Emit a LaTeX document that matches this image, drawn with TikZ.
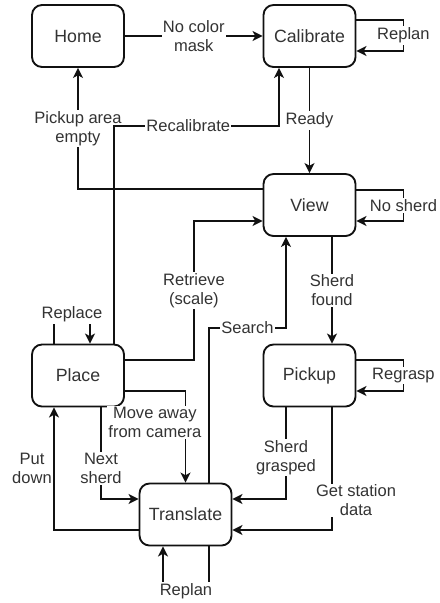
\documentclass[tikz,border=0pt]{standalone}
\usepackage{fontspec}
\setmainfont{Liberation Sans}
\usetikzlibrary{arrows.meta,calc}
\definecolor{txt}{HTML}{333333}
\definecolor{ln}{HTML}{111111}
\tikzset{
  state/.style={draw=ln, line width=1.4pt, rounded corners=7.5pt, minimum width=69pt, minimum height=46.5pt,
    font=\fontsize{13.3}{15}\selectfont, text=txt},
  arr/.style={draw=ln, line width=1.4pt, -{Stealth[length=7.5pt,width=7.5pt,inset=2pt]}},
  lbl/.style={fill=white, inner sep=1pt, align=center, font=\fontsize{12.4}{14}\selectfont, text=txt}
}
\begin{document}
\begin{tikzpicture}[x=0.75pt,y=-0.75pt]
\useasboundingbox[fill=white] (0,0) rectangle (439,603);
\node[state] (home) at (78,36) {Home};
\node[state] (calib) at (309.5,36) {Calibrate};
\node[state] (view) at (309.5,205) {View};
\node[state] (place) at (78,375.5) {Place};
\node[state] (pickup) at (309.5,375.5) {Pickup};
\node[state] (trans) at (185.5,514.5) {Translate};

% Home -> Calibrate
\draw[arr] (home) -- node[lbl]{No color\\mask} (calib);
% Calibrate self loop
\draw[arr] ($(calib.east)+(0,-16)$) -- ++(47,0) -- node[lbl]{Replan} ++(0,31) -- ($(calib.east)+(0,15)$);
% Calibrate -> View
\draw[arr] (calib) -- node[lbl]{Ready} (view);
% View -> Home
\draw[arr] ($(view.west)+(0,-16)$) -| node[lbl,pos=0.75]{Pickup area\\empty} (home.south);
% Place -> Calibrate
\draw[arr] ($(place.north)+(36,0)$) -- ++(0,-218) -- node[lbl,pos=0.45]{Recalibrate} ++(165,0) -- ($(calib.south)+(-30.5,0)$);
% View self loop
\draw[arr] ($(view.east)+(0,-15)$) -- ++(47,0) -- node[lbl]{No sherd} ++(0,31) -- ($(view.east)+(0,16)$);
% Place -> View
\draw[arr] ($(place.east)+(0,-15.5)$) -- ++(69,0) -- node[lbl]{Retrieve\\(scale)} ++(0,-139) -- ($(view.west)+(0,16)$);
% Translate -> View
\draw[arr] ($(trans.north)+(23.5,0)$) -- ++(0,-155) -- node[lbl]{Search} ++(77,0) -- ($(view.south)+(-23.5,0)$);
% View -> Pickup
\draw[arr] ($(view.south)+(22.5,0)$) -- node[lbl]{Sherd\\found} ($(pickup.north)+(22.5,0)$);
% Place self loop
\draw[arr] ($(place.north)+(-24,0)$) -- ++(0,-29) -- node[lbl]{Replace} ++(36,0) -- ($(place.north)+(12,0)$);
% Pickup self loop
\draw[arr] ($(pickup.east)+(0,-15.5)$) -- ++(47,0) -- node[lbl]{Regrasp} ++(0,31) -- ($(pickup.east)+(0,15.5)$);
% Place -> Translate (move away)
\draw[arr] ($(place.east)+(0,15.5)$) -| node[lbl,pos=0.672,xshift=-23pt]{Move away\\from camera} (trans.north);
% Place -> Translate (next sherd)
\draw[arr] ($(place.south)+(23,0)$) |- node[lbl,pos=0.333]{Next\\sherd} ($(trans.west)+(0,-15.5)$);
% Translate -> Place
\draw[arr] ($(trans.west)+(0,15.5)$) -| node[lbl,pos=0.75,xshift=-16.5pt]{Put\\down} ($(place.south)+(-24,0)$);
% Pickup -> Translate (grasped)
\draw[arr] ($(pickup.south)+(-23.5,0)$) |- node[lbl,pos=0.274]{Sherd\\grasped} ($(trans.east)+(0,-15.5)$);
% Pickup -> Translate (station data)
\draw[arr] ($(pickup.south)+(22.5,0)$) |- node[lbl,pos=0.379,xshift=18pt]{Get station\\data} ($(trans.east)+(0,15.5)$);
% Translate self loop
\draw[arr] ($(trans.south)+(23.5,0)$) -- ++(0,45) -- node[lbl]{Replan} ++(-46,0) -- ($(trans.south)+(-22.5,0)$);
\end{tikzpicture}
\end{document}
